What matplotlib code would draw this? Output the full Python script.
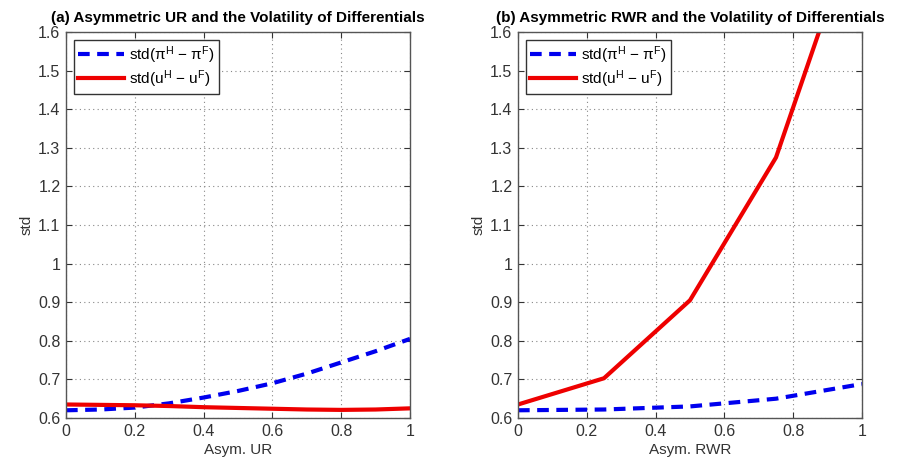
import matplotlib
matplotlib.use("Agg")
import matplotlib.pyplot as plt
from matplotlib.ticker import FuncFormatter

plt.rcParams['font.family'] = ['Liberation Sans', 'DejaVu Sans']
plt.rcParams['mathtext.fontset'] = 'custom'
plt.rcParams['mathtext.rm'] = 'Liberation Sans'
plt.rcParams['mathtext.it'] = 'Liberation Sans:italic'

# Panel (a): asymmetric UR
x_ur = [0.0, 0.1, 0.2, 0.3, 0.4, 0.5, 0.6, 0.7, 0.8, 0.9, 1.0]
pi_ur = [0.620, 0.622, 0.627, 0.638, 0.653, 0.670, 0.690, 0.715, 0.744, 0.773, 0.805]
u_ur = [0.635, 0.634, 0.633, 0.631, 0.628, 0.626, 0.624, 0.622, 0.621, 0.622, 0.625]

# Panel (b): asymmetric RWR
x_rwr = [0.0, 0.25, 0.5, 0.75, 1.0]
pi_rwr = [0.620, 0.622, 0.630, 0.650, 0.688]
u_rwr = [0.635, 0.703, 0.905, 1.275, 1.925]

titles = ["(a) Asymmetric UR and the Volatility of Differentials",
          "(b) Asymmetric RWR and the Volatility of Differentials"]
xlabels = ["Asym. UR", "Asym. RWR"]
ylabel = "std"
xticks = [0, 0.2, 0.4, 0.6, 0.8, 1]
yticks = [0.6, 0.7, 0.8, 0.9, 1.0, 1.1, 1.2, 1.3, 1.4, 1.5, 1.6]
label_pi = "std(π$^{\\rm H}$ − π$^{\\rm F}$)"
label_u = "std(u$^{\\rm H}$ − u$^{\\rm F}$)"

fig = plt.figure(figsize=(9.02, 4.59), dpi=100)
W, H = 902, 459
rects = [(66, 32, 410, 418), (518, 32, 862, 418)]
data = [(x_ur, pi_ur, u_ur), (x_rwr, pi_rwr, u_rwr)]

fmt = FuncFormatter(lambda v, p: ('%g' % round(v, 2)))

for i, ((l, t, r, b), (xs, pis, us)) in enumerate(zip(rects, data)):
    ax = fig.add_axes([l / W, (H - b) / H, (r - l) / W, (b - t) / H])
    ax.plot(xs, pis, color='#0000ee', lw=3, ls=(0, (2.8, 1.8)), label=label_pi)
    ax.plot(xs, us, color='#ee0000', lw=3, label=label_u)
    ax.set_xlim(0, 1)
    ax.set_ylim(0.6, 1.6)
    ax.set_xticks(xticks)
    ax.set_yticks(yticks)
    ax.xaxis.set_major_formatter(fmt)
    ax.yaxis.set_major_formatter(fmt)
    ax.grid(True, ls=(0, (1, 3)), color='#888888', lw=0.8)
    ax.tick_params(direction='in', top=True, right=True, labelsize=11.5,
                   colors='#333333', length=4, width=0.8, pad=4)
    for s in ax.spines.values():
        s.set_color('#555555')
        s.set_linewidth(1.0)
    ax.set_title(titles[i], fontsize=11, fontweight='bold', pad=7)
    ax.set_xlabel(xlabels[i], fontsize=11, color='#333333', labelpad=3)
    ax.set_ylabel(ylabel, fontsize=11, color='#333333', labelpad=3)
    leg = ax.legend(loc='upper left', fontsize=11, fancybox=False,
                    edgecolor='#333333', framealpha=1, handlelength=3.0,
                    borderpad=0.3, labelspacing=0.15, handletextpad=0.3,
                    borderaxespad=0.5)
    leg.get_frame().set_linewidth(1.0)

fig.savefig("out.png", dpi=100)
